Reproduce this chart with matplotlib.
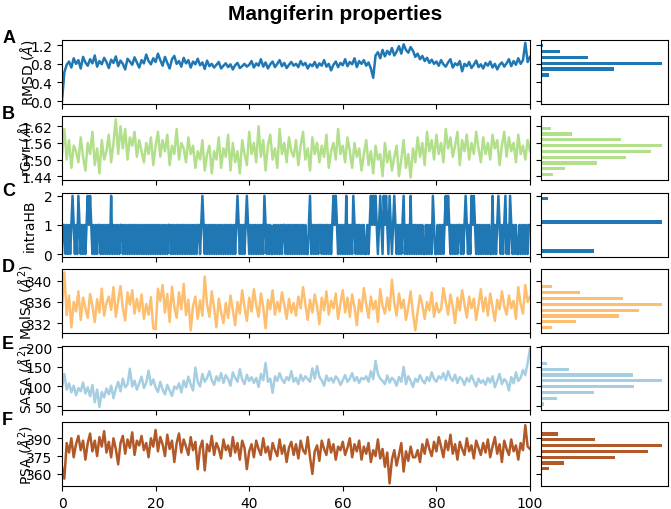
import numpy as np
import matplotlib.pyplot as plt

rmsd = [0.00, 0.62, 0.78, 0.85, 0.72, 0.92, 0.80, 0.88, 0.70, 0.95, 0.83, 0.76, 0.90, 0.81, 0.98, 0.74, 0.86, 0.79, 0.93, 0.84,
        0.71, 0.89, 0.82, 0.96, 0.75, 0.87, 0.80, 0.68, 0.91, 0.85, 0.78, 0.94, 0.83, 0.72, 0.88, 0.81, 1.00, 0.86, 0.79, 0.92,
        0.84, 1.02, 0.88, 0.76, 0.95, 0.82, 0.70, 0.90, 0.97, 0.80, 0.86, 0.74, 0.93, 0.81, 0.88, 0.72, 0.85, 0.79, 0.91, 0.77,
        0.83, 0.69, 0.87, 0.75, 0.80, 0.72, 0.78, 0.84, 0.70, 0.76, 0.81, 0.73, 0.79, 0.68, 0.77, 0.82, 0.71, 0.75, 0.80, 0.74,
        0.78, 0.86, 0.72, 0.81, 0.76, 0.90, 0.74, 0.83, 0.70, 0.79, 0.85, 0.73, 0.80, 0.88, 0.75, 0.82, 0.71, 0.78, 0.84, 0.76,
        0.80, 0.73, 0.86, 0.77, 0.82, 0.70, 0.79, 0.75, 0.84, 0.72, 0.81, 0.76, 0.88, 0.74, 0.80, 0.66, 0.78, 0.85, 0.73, 0.82,
        0.77, 0.90, 0.75, 0.84, 0.79, 0.92, 0.73, 0.86, 0.80, 0.88, 0.76, 0.83, 0.70, 0.50, 0.98, 1.05, 0.92, 1.10, 0.96, 1.08,
        1.00, 1.14, 0.98, 1.06, 1.18, 1.02, 1.22, 1.10, 1.04, 1.16, 1.08, 0.95, 1.02, 0.90, 0.97, 0.86, 0.93, 0.82, 0.89, 0.80,
        0.85, 0.76, 0.88, 0.79, 0.74, 0.83, 0.90, 0.72, 0.81, 0.77, 0.86, 0.64, 0.80, 0.75, 0.84, 0.71, 0.78, 0.87, 0.73, 0.79,
        0.70, 0.82, 0.76, 0.85, 0.72, 0.80, 0.68, 0.78, 0.83, 0.74, 0.81, 0.90, 0.75, 0.86, 0.78, 0.92, 0.80, 0.88, 1.25, 0.84,
        0.95]

rgyr = [1.52, 1.61, 1.50, 1.57, 1.47, 1.55, 1.53, 1.49, 1.58, 1.51, 1.46, 1.56, 1.52, 1.60, 1.48, 1.54, 1.45, 1.57, 1.50, 1.53,
        1.59, 1.49, 1.56, 1.645, 1.52, 1.62, 1.54, 1.61, 1.50, 1.58, 1.55, 1.60, 1.51, 1.57, 1.53, 1.49, 1.56, 1.52, 1.58, 1.48,
        1.55, 1.60, 1.51, 1.57, 1.53, 1.59, 1.48, 1.55, 1.52, 1.61, 1.50, 1.56, 1.54, 1.49, 1.58, 1.52, 1.55, 1.47, 1.53, 1.50,
        1.57, 1.46, 1.52, 1.55, 1.45, 1.53, 1.50, 1.58, 1.47, 1.54, 1.51, 1.59, 1.46, 1.56, 1.49, 1.53, 1.45, 1.57, 1.52, 1.48,
        1.60, 1.52, 1.56, 1.49, 1.62, 1.51, 1.57, 1.46, 1.55, 1.59, 1.50, 1.54, 1.47, 1.61, 1.52, 1.56, 1.49, 1.58, 1.53, 1.51,
        1.57, 1.48, 1.55, 1.60, 1.50, 1.54, 1.46, 1.58, 1.52, 1.56, 1.49, 1.55, 1.51, 1.59, 1.47, 1.53, 1.56, 1.50, 1.61, 1.52,
        1.55, 1.49, 1.58, 1.53, 1.47, 1.56, 1.51, 1.54, 1.46, 1.52, 1.57, 1.48, 1.53, 1.45, 1.55, 1.50, 1.52, 1.44, 1.56, 1.49,
        1.53, 1.46, 1.51, 1.55, 1.44, 1.50, 1.57, 1.47, 1.52, 1.435, 1.54, 1.49, 1.58, 1.51, 1.56, 1.48, 1.60, 1.53, 1.57, 1.50,
        1.59, 1.52, 1.56, 1.49, 1.61, 1.54, 1.58, 1.51, 1.55, 1.60, 1.48, 1.57, 1.53, 1.59, 1.50, 1.56, 1.52, 1.60, 1.54, 1.49,
        1.58, 1.52, 1.56, 1.50, 1.59, 1.54, 1.57, 1.48, 1.55, 1.60, 1.51, 1.58, 1.53, 1.56, 1.49, 1.59, 1.52, 1.55, 1.50, 1.57,
        1.53]

# intramolecular H-bonds, one digit every 0.25 ns
intra_hb = ("0110101012" "1010210101" "0121210101" "0110101010"
            "1020101010" "1101010101" "0101010101" "0101010101"
            "0101010101" "0110101010" "1010101010" "1010101101"
            "2101010101" "0101010101" "0101010101" "2101010121"
            "0101010101" "0102101010" "0101010101" "1010101010"
            "1010101010" "0120101010" "1101010101" "0121210101"
            "0102010102" "1010101010" "0101212121" "0121021210"
            "2101210101" "0120101020" "1010101010" "0101010210"
            "0101010121" "2101010101" "1010121010" "2121010101"
            "0101010020" "1012101012" "0102101010" "0101010101"
            "1")
intra_hb = [int(c) for c in intra_hb]

molsa = [335.0, 341.6, 333.5, 337.2, 331.2, 336.0, 334.2, 338.0, 332.6, 336.8, 334.8, 333.0, 337.5, 335.2, 332.2, 336.5, 334.0, 338.5, 333.4, 335.8,
         337.0, 334.5, 338.8, 333.2, 336.2, 339.0, 334.8, 332.5, 337.8, 335.5, 338.2, 333.8, 336.6, 334.2, 337.4, 332.8, 335.6, 333.6, 336.9, 331.0,
         330.8, 338.5, 336.2, 339.2, 334.0, 337.5, 332.2, 338.9, 335.0, 333.0, 337.8, 334.6, 339.4, 333.5, 336.4, 330.6, 335.2, 337.0, 332.8, 336.3,
         333.4, 340.8, 335.5, 333.2, 338.0, 334.8, 331.2, 336.6, 334.0, 332.0, 335.8, 333.0, 337.2, 334.5, 331.6, 336.0, 333.8, 338.2, 335.0, 332.4,
         336.8, 334.2, 338.4, 335.4, 333.2, 337.6, 335.0, 331.0, 336.4, 334.6, 338.2, 333.6, 336.0, 334.2, 337.8, 335.4, 332.8, 336.6, 334.0, 335.8,
         333.4, 337.0, 334.8, 338.8, 335.6, 332.6, 336.4, 334.0, 337.4, 335.2, 331.8, 336.8, 334.4, 338.0, 333.6, 336.2, 334.8, 337.6, 332.8, 335.8,
         338.2, 334.0, 336.8, 333.2, 337.4, 335.0, 331.6, 336.4, 334.2, 338.6, 335.6, 333.0, 337.0, 334.6, 336.2, 332.2, 338.4, 335.2, 333.8, 336.8,
         334.4, 340.2, 335.8, 333.4, 337.6, 334.8, 336.4, 332.6, 335.0, 338.0, 333.8, 330.6, 334.2, 337.2, 335.4, 332.8, 336.0, 334.4, 337.8, 333.2,
         335.8, 334.0, 334.6, 338.6, 336.0, 333.6, 337.4, 335.2, 332.0, 336.8, 334.4, 338.2, 335.6, 333.0, 337.0, 334.8, 336.6, 332.6, 335.4, 338.4,
         334.2, 336.8, 333.4, 337.6, 335.0, 332.4, 336.4, 334.6, 338.0, 335.2, 333.6, 337.2, 334.8, 336.2, 332.8, 338.8, 335.6, 333.8, 339.2, 336.0,
         337.0]

sasa = [100, 132, 92, 108, 85, 102, 78, 96, 88, 110, 82, 98, 75, 104, 60, 92, 48, 86, 72, 95,
        80, 102, 70, 94, 112, 88, 120, 98, 105, 145, 100, 115, 92, 108, 125, 96, 110, 140, 104, 118,
        98, 86, 112, 92, 80, 104, 90, 76, 100, 94, 108, 85, 115, 98, 125, 105, 90, 148, 112, 100,
        132, 112, 122, 139, 116, 104, 126, 114, 134, 109, 129, 119, 102, 136, 122, 112, 144, 118, 106, 130,
        114, 124, 109, 122, 99, 132, 116, 160, 112, 120, 84, 126, 114, 134, 118, 109, 124, 116, 139, 112,
        122, 106, 130, 114, 126, 119, 112, 146, 120, 152, 124, 116, 102, 128, 114, 122, 110, 126, 118, 104,
        116, 129, 112, 120, 134, 114, 124, 109, 122, 118, 126, 112, 139, 119, 165, 132, 120, 114, 106, 128,
        110, 122, 116, 102, 124, 112, 150, 106, 126, 114, 99, 120, 112, 129, 116, 108, 124, 114, 136, 119,
        112, 126, 120, 134, 116, 139, 122, 114, 130, 109, 124, 118, 104, 122, 112, 128, 114, 100, 120, 109,
        116, 104, 122, 110, 126, 98, 114, 132, 106, 119, 112, 90, 124, 108, 136, 114, 122, 142, 129, 160,
        196]

psa = [366, 356, 386, 378, 390, 374, 385, 392, 380, 388, 372, 386, 394, 379, 388, 375, 391, 383, 396, 378,
       387, 374, 390, 381, 368, 386, 392, 377, 389, 382, 395, 376, 388, 384, 392, 380, 386, 374, 390, 383,
       397, 379, 391, 385, 375, 393, 381, 388, 370, 386, 394, 378, 389, 383, 376, 391, 380, 387, 364, 382,
       388, 363, 385, 379, 392, 376, 386, 381, 373, 389, 380, 384, 375, 391, 378, 386, 372, 388, 382, 364,
       379, 385, 374, 388, 381, 376, 390, 378, 383, 372, 386, 380, 375, 389, 377, 384, 370, 382, 387, 376,
       385, 373, 388, 380, 377, 391, 374, 360, 379, 384, 371, 388, 381, 376, 389, 378, 385, 372, 383, 380,
       387, 376, 382, 390, 374, 385, 379, 388, 372, 383, 377, 386, 370, 380, 375, 389, 373, 381, 366, 378,
       352, 372, 380, 367, 376, 386, 362, 379, 371, 383, 374, 374, 380, 370, 385, 377, 389, 381, 375, 387,
       379, 391, 383, 374, 388, 380, 393, 377, 385, 372, 387, 381, 376, 390, 379, 384, 373, 388, 382, 376,
       386, 378, 389, 374, 383, 391, 377, 385, 370, 388, 381, 376, 389, 379, 384, 372, 386, 380, 401, 383,
       381]

# histogram counts, 10 bins from min to max of each series (low -> high)
rmsd_counts = [1, 0, 0, 1, 31, 268, 447, 174, 72, 8]
rgyr_counts = [36, 70, 168, 252, 328, 360, 237, 93, 31, 3]
hb_counts = [293, 0, 0, 0, 0, 667, 0, 0, 0, 41]
molsa_counts = [32, 103, 231, 293, 360, 245, 115, 32, 3, 1]
sasa_counts = [8, 48, 157, 278, 360, 275, 83, 17, 1, 1]
psa_counts = [1, 3, 23, 68, 221, 318, 360, 162, 50, 2]

series = [rmsd, rgyr, intra_hb, molsa, sasa, psa]
counts = [rmsd_counts, rgyr_counts, hb_counts, molsa_counts, sasa_counts, psa_counts]
ylabels = [r'RMSD ($\AA$)', r'rGyr ($\AA$)', 'intraHB', r'MolSA ($\AA^2$)',
           r'SASA ($\AA^2$)', r'PSA ($\AA^2$)']
yticks = [[0.0, 0.4, 0.8, 1.2], [1.44, 1.50, 1.56, 1.62], [0, 1, 2],
          [332, 336, 340], [50, 100, 150, 200], [360, 375, 390]]
letters = ['A', 'B', 'C', 'D', 'E', 'F']
colors = ['#1f78b4', '#b2df8a', '#1f78b4', '#fdbf6f', '#a6cee3', '#b15928']

fig = plt.figure(figsize=(6.71, 5.10), dpi=100)
gs = fig.add_gridspec(6, 2, width_ratios=[468, 127], left=0.0924, right=0.9955,
                      top=0.9196, bottom=0.0445, hspace=0.195, wspace=0.037)

first = None
for i in range(6):
    y = np.array(series[i], dtype=float)
    t = np.linspace(0, 100, len(y))
    ax = fig.add_subplot(gs[i, 0], sharex=first)
    if first is None:
        first = ax
    ax.plot(t, y, color=colors[i], lw=1.8)
    ax.set_xlim(0, 100)
    ax.set_xticks(range(0, 101, 20))
    ax.set_yticks(yticks[i])
    if i == 1:
        ax.set_yticklabels(['%.2f' % v for v in yticks[i]])
    ax.tick_params(labelsize=10, labelbottom=(i == 5))
    ax.set_ylabel(ylabels[i], fontsize=10)
    ax.yaxis.set_label_coords(-0.055, 0.5)
    ax.text(-0.128, 0.97, letters[i], transform=ax.transAxes, fontsize=13,
            fontweight='bold', family='Liberation Sans', va='baseline', ha='left')

    # histogram on the right, same y scale
    axh = fig.add_subplot(gs[i, 1], sharey=ax)
    edges = np.linspace(y.min(), y.max(), 11)
    bw = edges[1] - edges[0]
    centers = edges[:-1] + bw / 2
    axh.barh(centers, counts[i], height=0.55 * bw, color=colors[i])
    axh.set_xticks([])
    axh.tick_params(labelleft=False)

fig.text(0.5, 0.972, 'Mangiferin properties', ha='center', va='center',
         fontsize=15, fontweight='bold', family='Liberation Sans')

fig.savefig('out.png', dpi=100)
